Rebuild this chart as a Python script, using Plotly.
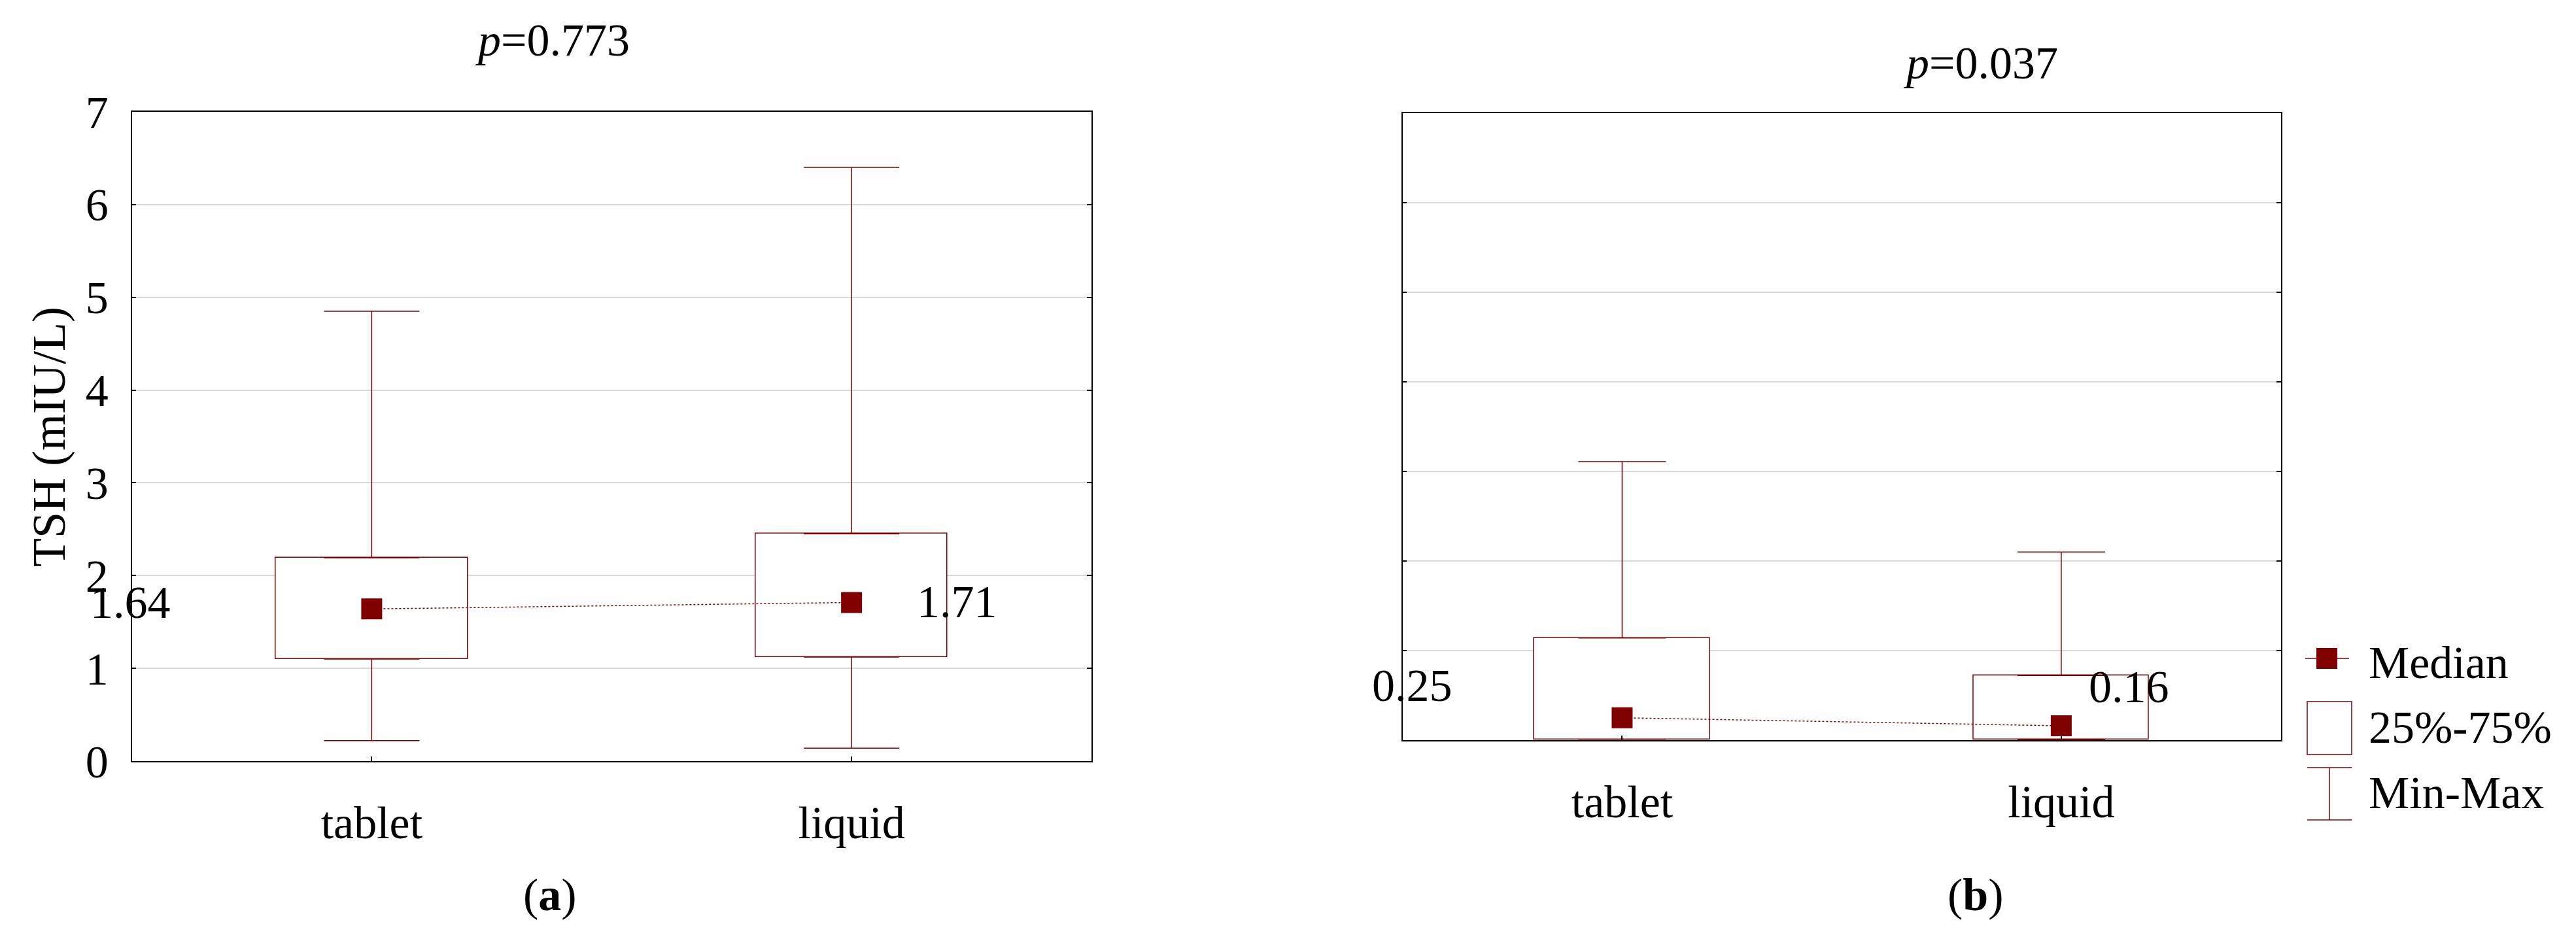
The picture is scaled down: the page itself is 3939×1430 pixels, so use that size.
import plotly.graph_objects as go

# ---------------- data ----------------
categories = ["tablet", "liquid"]

# panel (a)
a_min = [0.22, 0.14]
a_q1 = [1.10, 1.12]
a_median = [1.64, 1.71]
a_q3 = [2.19, 2.45]
a_max = [4.85, 6.40]
a_title = "<i>p</i>=0.773"

# panel (b)
b_min = [0.01, 0.00]
b_q1 = [0.01, 0.01]
b_median = [0.25, 0.16]
b_q3 = [1.14, 0.72]
b_max = [3.11, 2.10]
b_title = "<i>p</i>=0.037"

y_ticks = [0, 1, 2, 3, 4, 5, 6, 7]
y_title = "TSH (mIU/L)"
legend_labels = ["Median", "25%-75%", "Min-Max"]

# ---------------- style ----------------
W, H = 3939, 1430
RED = "#800000"
FONT = "Liberation Serif"
FS = 70


def px(x):
    return x / W


def py(y):
    return 1 - y / H


fig = go.Figure()


def add_panel(xa, ya, qmin, q1, med, q3, qmax, capw, label_dx, label_xs, label_dy):
    xref = xa
    yref = ya
    # box (25%-75%)
    fig.add_trace(go.Bar(
        x=categories, y=[b - a for a, b in zip(q1, q3)], base=q1, width=0.4,
        marker=dict(color="white", line=dict(color=RED, width=1.5)),
        xaxis=xa, yaxis=ya, showlegend=False, hoverinfo="skip"))
    # upper whisker
    fig.add_trace(go.Scatter(
        x=categories, y=q3, mode="markers",
        marker=dict(size=1, color="rgba(0,0,0,0)"),
        error_y=dict(type="data", symmetric=False,
                     array=[b - a for a, b in zip(q3, qmax)], arrayminus=[0] * len(q3),
                     width=capw, thickness=1.5, color=RED),
        xaxis=xa, yaxis=ya, showlegend=False, hoverinfo="skip"))
    # lower whisker
    fig.add_trace(go.Scatter(
        x=categories, y=q1, mode="markers",
        marker=dict(size=1, color="rgba(0,0,0,0)"),
        error_y=dict(type="data", symmetric=False,
                     array=[0] * len(q1), arrayminus=[a - b for a, b in zip(q1, qmin)],
                     width=capw, thickness=1.5, color=RED),
        xaxis=xa, yaxis=ya, showlegend=False, hoverinfo="skip"))
    # medians
    fig.add_trace(go.Scatter(
        x=categories, y=med, mode="lines+markers",
        line=dict(color=RED, width=1.5, dash="dot"),
        marker=dict(symbol="square", size=32, color=RED),
        xaxis=xa, yaxis=ya, showlegend=False, hoverinfo="skip"))
    for i, v in enumerate(med):
        fig.add_annotation(x=i + label_dx[i], y=v, xref=xref, yref=yref,
                           text=f"{v:.2f}", showarrow=False,
                           xshift=label_xs[i], yshift=label_dy[i],
                           font=dict(family=FONT, size=FS, color="black"))


add_panel("x", "y", a_min, a_q1, a_median, a_q3, a_max, 73,
          [-0.49, 0.22], [-9.5, 0], [10, 1])
add_panel("x2", "y2", b_min, b_q1, b_median, b_q3, b_max, 67,
          [-0.478, 0.155], [0, 0], [49, 60])

axis_common = dict(showline=True, linecolor="black", linewidth=1.5,
                   ticks="inside", ticklen=7, tickwidth=1.5, tickcolor="black",
                   automargin=False, zeroline=False,
                   tickfont=dict(family=FONT, size=FS, color="black"))

fig.update_layout(
    width=W, height=H, autosize=False,
    margin=dict(l=0, r=0, t=0, b=0),
    paper_bgcolor="white", plot_bgcolor="white",
    showlegend=False, bargap=0,
    xaxis=dict(domain=[px(201.5), px(1669)], type="category",
               categoryorder="array", categoryarray=categories,
               range=[-0.5, 1.5], mirror=True, showgrid=False,
               ticklabelstandoff=32, anchor="y", **axis_common),
    yaxis=dict(domain=[py(1164), py(171)], range=[0, 7], tickvals=y_ticks,
               mirror="ticks", showgrid=True, gridcolor="#d9d9d9", gridwidth=1.5,
               ticklabelstandoff=20, anchor="x", **axis_common),
    xaxis2=dict(domain=[px(2144.7), px(3487.6)], type="category",
                categoryorder="array", categoryarray=categories,
                range=[-0.5, 1.5], mirror=True, showgrid=False,
                ticklabelstandoff=32, anchor="y2", **axis_common),
    yaxis2=dict(domain=[py(1132), py(173)], range=[0, 7], tickvals=y_ticks,
                mirror="ticks", showgrid=True, gridcolor="#d9d9d9", gridwidth=1.5,
                showticklabels=False, anchor="x2", **axis_common),
)

txt = dict(family=FONT, size=FS, color="black")

# titles / panel labels / y title
fig.add_annotation(x=px(844), y=py(62), xref="paper", yref="paper", text=a_title,
                   showarrow=False, font=txt, xanchor="center", yanchor="middle")
fig.add_annotation(x=px(3028), y=py(96), xref="paper", yref="paper", text=b_title,
                   showarrow=False, font=txt, xanchor="center", yanchor="middle")
fig.add_annotation(x=px(841), y=py(1368), xref="paper", yref="paper", text="(<b>a</b>)",
                   showarrow=False, font=txt, xanchor="center", yanchor="middle")
fig.add_annotation(x=px(3021), y=py(1368), xref="paper", yref="paper", text="(<b>b</b>)",
                   showarrow=False, font=txt, xanchor="center", yanchor="middle")
fig.add_annotation(x=px(75), y=py(668), xref="paper", yref="paper", text=y_title,
                   textangle=-90, showarrow=False, font=dict(family=FONT, size=72, color="black"),
                   xanchor="center", yanchor="middle")

# custom legend
lw = dict(color=RED, width=1.5)
fig.add_shape(type="line", xref="paper", yref="paper", x0=px(3525), x1=px(3592),
              y0=py(1007), y1=py(1007), line=dict(color=RED, width=1.5))
fig.add_shape(type="rect", xref="paper", yref="paper", x0=px(3542), x1=px(3574),
              y0=py(1023), y1=py(991), line=dict(width=0), fillcolor=RED)
fig.add_shape(type="rect", xref="paper", yref="paper", x0=px(3528), x1=px(3596),
              y0=py(1154), y1=py(1073), line=lw, fillcolor="rgba(0,0,0,0)")
fig.add_shape(type="line", xref="paper", yref="paper", x0=px(3528), x1=px(3596),
              y0=py(1174), y1=py(1174), line=lw)
fig.add_shape(type="line", xref="paper", yref="paper", x0=px(3528), x1=px(3596),
              y0=py(1254), y1=py(1254), line=lw)
fig.add_shape(type="line", xref="paper", yref="paper", x0=px(3562), x1=px(3562),
              y0=py(1174), y1=py(1254), line=lw)
for lab, yc in zip(legend_labels, [1013, 1112, 1212]):
    fig.add_annotation(x=px(3620), y=py(yc), xref="paper", yref="paper", text=lab,
                       showarrow=False, font=txt, xanchor="left", yanchor="middle")

fig.write_html("out.html", config={"displayModeBar": False},
               post_script="document.body.style.margin='0';document.body.style.overflow='hidden';")
